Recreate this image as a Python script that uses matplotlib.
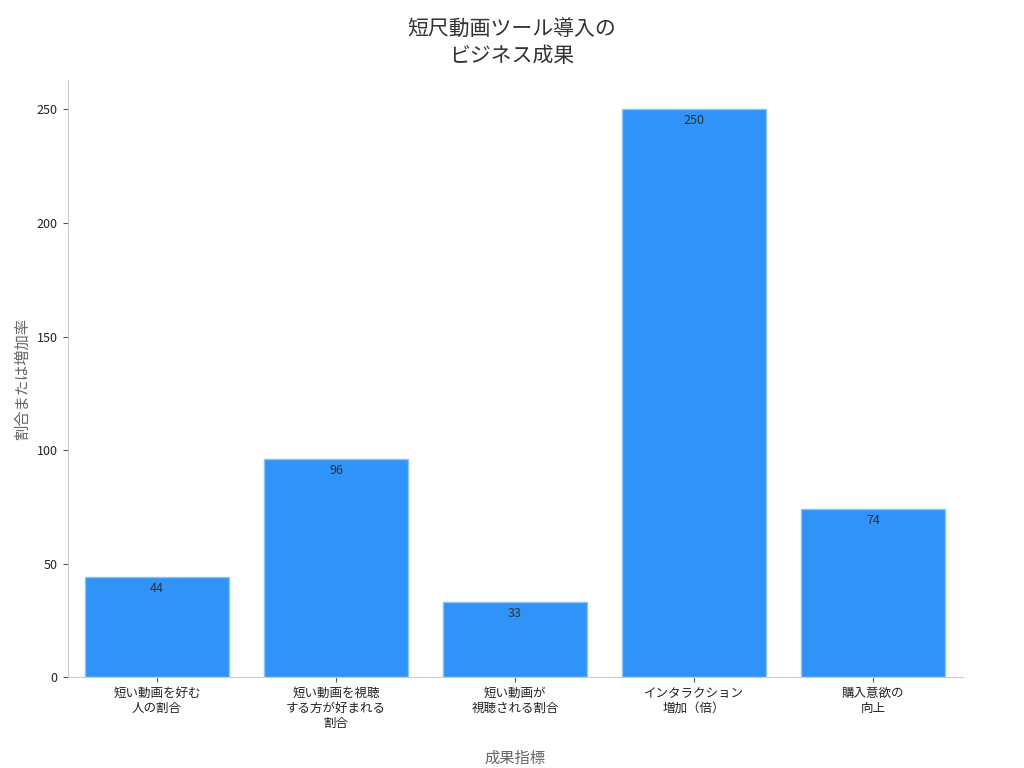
import matplotlib
matplotlib.use("Agg")
import matplotlib.pyplot as plt

plt.rcParams["font.family"] = ["Noto Sans CJK JP", "DejaVu Sans"]

categories = ["短い動画を好む\n人の割合", "短い動画を視聴\nする方が好まれる\n割合", "短い動画が\n視聴される割合",
              "インタラクション\n増加（倍）", "購入意欲の\n向上"]
values = [44, 96, 33, 250, 74]

fig = plt.figure(figsize=(10.24, 7.68), dpi=100)
ax = fig.add_axes([0.066, 0.118, 0.874, 0.778])
x = range(len(categories))
bars = ax.bar(x, values, width=0.8, color="#2f93f7", edgecolor="#8cc4fa", linewidth=1)
for b, v in zip(bars, values):
    ax.text(b.get_x() + b.get_width() / 2, v - 2, str(v), ha="center", va="top",
            fontsize=9, color="#333333")
ax.set_xlim(-0.5, 4.5)
ax.set_ylim(0, 263)
ax.set_yticks([0, 50, 100, 150, 200, 250])
ax.set_xticks(list(x))
ax.set_xticklabels(categories, fontsize=9, color="#222222", linespacing=1.2)
ax.tick_params(axis="y", labelsize=9, colors="#222222")
ax.tick_params(color="#555555")
for s in ["top", "right"]:
    ax.spines[s].set_visible(False)
for s in ["left", "bottom"]:
    ax.spines[s].set_color("#cccccc")
ax.set_xlabel("成果指標", fontsize=11, color="#666666", labelpad=14)
ax.set_ylabel("割合または増加率", fontsize=11, color="#666666")
fig.suptitle("短尺動画ツール導入の\nビジネス成果", fontsize=15, color="#333333", y=0.975)
fig.savefig("out.png")
